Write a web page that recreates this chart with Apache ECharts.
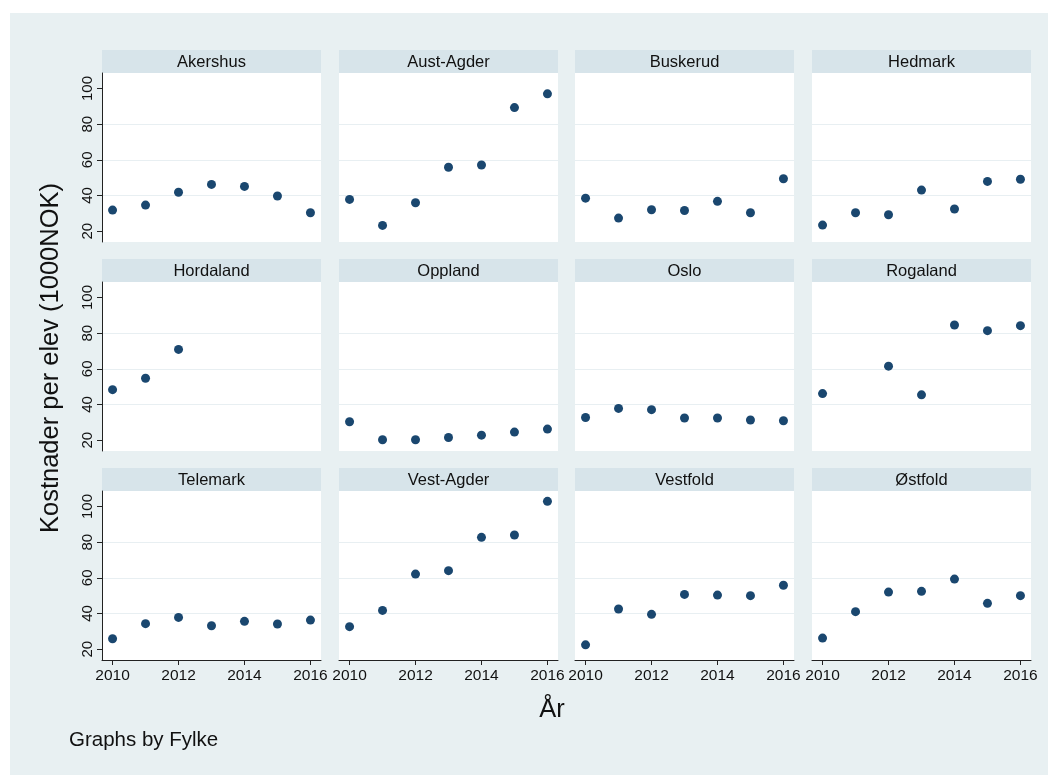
<!DOCTYPE html>
<html>
<head>
<meta charset="utf-8">
<script src="https://cdn.jsdelivr.net/npm/echarts@6/dist/echarts.min.js"></script>
<style>
html,body{margin:0;padding:0;background:#fff;}
#chart{width:1053px;height:775px;}
</style>
</head>
<body>
<div id="chart"></div>
<script>
const years = [2010, 2011, 2012, 2013, 2014, 2015, 2016];
const fylker = ['Akershus', 'Aust-Agder', 'Buskerud', 'Hedmark',
                'Hordaland', 'Oppland', 'Oslo', 'Rogaland',
                'Telemark', 'Vest-Agder', 'Vestfold', 'Østfold'];
const akershus  = [31.8, 34.6, 41.8, 46.2, 45.1, 39.7, 30.3];
const austAgder = [37.8, 23.2, 35.9, 55.8, 57.1, 89.3, 97.0];
const buskerud  = [38.5, 27.3, 32.0, 31.6, 36.7, 30.3, 49.4];
const hedmark   = [23.4, 30.3, 29.2, 43.0, 32.4, 47.9, 49.1];
const hordaland = [48.3, 54.7, 70.9, null, null, null, null];
const oppland   = [30.3, 20.2, 20.2, 21.5, 22.8, 24.5, 26.2];
const oslo      = [32.7, 37.8, 37.1, 32.4, 32.4, 31.3, 30.9];
const rogaland  = [46.1, null, 61.5, 45.4, 84.6, 81.4, 84.2];
const telemark  = [25.8, 34.3, 37.8, 33.1, 35.6, 34.1, 36.3];
const vestAgder = [32.6, 41.7, 62.1, 64.0, 82.7, 84.0, 102.9];
const vestfold  = [22.4, 42.5, 39.5, 50.7, 50.3, 50.0, 55.8];
const ostfold   = [26.2, 41.0, 52.0, 52.4, 59.3, 45.7, 50.0];
const xTicks = [2010, 2012, 2014, 2016];
const yTicks = [20, 40, 60, 80, 100];
const yTitle = 'Kostnader per elev (1000NOK)';
const xTitle = 'År';
const note = 'Graphs by Fylke';

const seriesValues = [akershus, austAgder, buskerud, hedmark, hordaland, oppland,
                      oslo, rogaland, telemark, vestAgder, vestfold, ostfold];

const FONT = '"Liberation Sans", Arial, "Helvetica", sans-serif';
const colLeft = [102, 339, 575, 812];
const rowTop = [50, 259, 468];
const panelW = 219;
const headH = 23;
const plotH = 169;
const markerColor = '#1a476f';

const grids = [], xAxes = [], yAxes = [], series = [], graphics = [];

graphics.push({
  type: 'rect', z: -10, silent: true,
  shape: { x: 10, y: 13, width: 1038, height: 762 },
  style: { fill: '#e8f0f2' }
});

fylker.forEach((name, i) => {
  const r = Math.floor(i / 4), c = i % 4;
  const left = colLeft[c], top = rowTop[r] + headH;
  grids.push({
    left: left, top: top, width: panelW, height: plotH,
    show: true, backgroundColor: '#ffffff', borderWidth: 0
  });
  graphics.push({
    type: 'rect', silent: true,
    shape: { x: left, y: rowTop[r], width: panelW, height: headH },
    style: { fill: '#d7e4ea' }
  });
  graphics.push({
    type: 'text', silent: true,
    x: left + panelW / 2, y: rowTop[r] + headH / 2 + 0.5,
    style: { text: name, fill: '#111', font: '16.5px ' + FONT, align: 'center', verticalAlign: 'middle' }
  });
  xAxes.push({
    gridIndex: i, type: 'value', min: 2009.68, max: 2016.32,
    minInterval: 2, maxInterval: 2, splitNumber: 3,
    splitLine: { show: false },
    axisLine: { show: r === 2, onZero: false, lineStyle: { color: '#222', width: 1 } },
    axisTick: { show: r === 2, length: 5, customValues: xTicks, lineStyle: { color: '#222' } },
    axisLabel: { show: r === 2, customValues: xTicks, fontSize: 15.5, color: '#111', margin: 8,
                 fontFamily: FONT, formatter: v => String(v) }
  });
  yAxes.push({
    gridIndex: i, type: 'value', min: 13.9, max: 108.7,
    minInterval: 20, maxInterval: 20, splitNumber: 5,
    splitLine: { show: true, showMinLine: false, showMaxLine: false, lineStyle: { color: '#e8eff2', width: 1.2 } },
    axisLine: { show: c === 0, onZero: false, lineStyle: { color: '#222', width: 1 } },
    axisTick: { show: c === 0, length: 5, customValues: yTicks, lineStyle: { color: '#222' } },
    axisLabel: { show: c === 0, customValues: yTicks, rotate: 90, fontSize: 15, color: '#111', margin: 7,
                 fontFamily: FONT, formatter: v => String(v) }
  });
  const vals = seriesValues[i];
  series.push({
    type: 'scatter', xAxisIndex: i, yAxisIndex: i,
    symbol: 'circle', symbolSize: 9,
    itemStyle: { color: markerColor, opacity: 1 },
    data: years.map((y, k) => [y, vals[k]]).filter(d => d[1] !== null),
    silent: true, animation: false
  });
});

graphics.push({
  type: 'text', silent: true,
  x: 51, y: 358, rotation: Math.PI / 2,
  style: { text: yTitle, fill: '#111', font: '25.5px ' + FONT, align: 'center', verticalAlign: 'middle' }
});
graphics.push({
  type: 'text', silent: true,
  x: 552, y: 710,
  style: { text: xTitle, fill: '#111', font: '25.5px ' + FONT, align: 'center', verticalAlign: 'middle' }
});
graphics.push({
  type: 'text', silent: true,
  x: 69, y: 740,
  style: { text: note, fill: '#111', font: '20.5px ' + FONT, align: 'left', verticalAlign: 'middle' }
});

const chart = echarts.init(document.getElementById('chart'), null, { renderer: 'canvas' });
chart.setOption({
  backgroundColor: '#ffffff',
  animation: false,
  textStyle: { fontFamily: FONT },
  grid: grids,
  xAxis: xAxes,
  yAxis: yAxes,
  series: series,
  graphic: graphics
});
</script>
</body>
</html>
